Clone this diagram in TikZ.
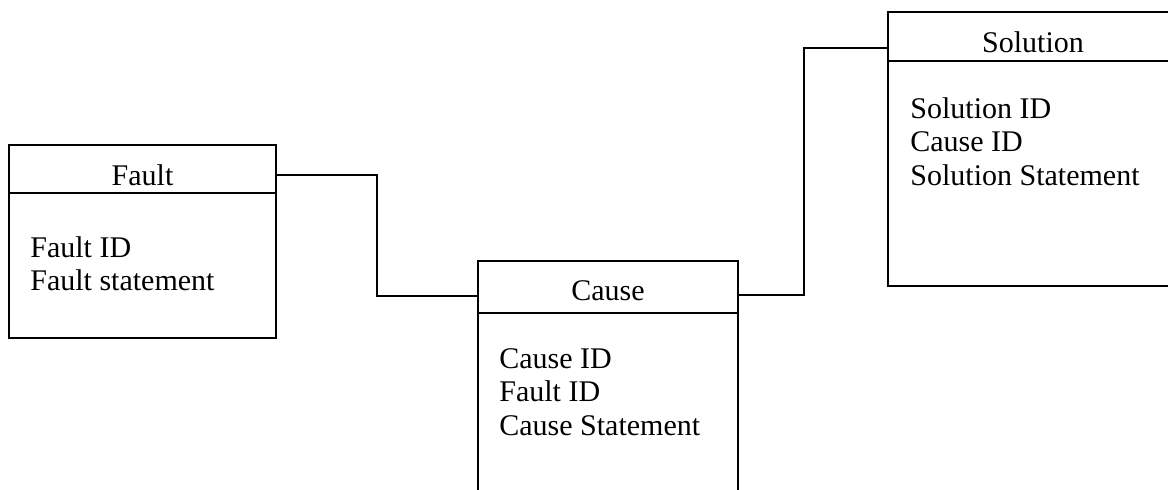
\documentclass[tikz,border=0pt]{standalone}
\usepackage{fontspec}
\setmainfont{Liberation Serif}
\usetikzlibrary{calc}
\begin{document}
\begin{tikzpicture}[x=0.5pt,y=-0.5pt,
  table/.style={draw=black, line width=1pt, anchor=north west, inner sep=0pt, outer sep=0pt},
  title/.style={anchor=base, font=\fontsize{15}{17}\selectfont, inner sep=0pt},
  field/.style={anchor=base west, font=\fontsize{15}{17}\selectfont, inner sep=0pt},
  link/.style={draw=black, line width=1pt}]
\useasboundingbox (0,0) rectangle (1168,489);
\clip (0,0) rectangle (1168,489);

% Entity boxes
\node[table, minimum width=133.5pt, minimum height=96.5pt] (fault) at (9,145) {};
\node[table, minimum width=130pt, minimum height=130pt] (cause) at (478,261) {};
\node[table, minimum width=145pt, minimum height=137pt] (solution) at (888,12) {};

% Header separators
\draw[link] ($(fault.north west)+(0,48)$) -- ($(fault.north east)+(0,48)$);
\draw[link] ($(cause.north west)+(0,52)$) -- ($(cause.north east)+(0,52)$);
\draw[link] ($(solution.north west)+(0,49)$) -- ($(solution.north east)+(0,49)$);

% Titles
\node[title] (fault-t) at ($(fault.north)+(0,40)$) {Fault};
\node[title] (cause-t) at ($(cause.north)+(0,39)$) {Cause};
\node[title] (solution-t) at ($(solution.north)+(0,40)$) {Solution};

% Fields
\node[field] (fault-f1) at ($(fault.north west)+(21,112)$) {Fault ID};
\node[field] (fault-f2) at ($(fault.north west)+(21,145.5)$) {Fault statement};

\node[field] (cause-f1) at ($(cause.north west)+(21,107)$) {Cause ID};
\node[field] (cause-f2) at ($(cause.north west)+(21,140.5)$) {Fault ID};
\node[field] (cause-f3) at ($(cause.north west)+(21,174)$) {Cause Statement};

\node[field] (solution-f1) at ($(solution.north west)+(22,106)$) {Solution ID};
\node[field] (solution-f2) at ($(solution.north west)+(22,139.5)$) {Cause ID};
\node[field] (solution-f3) at ($(solution.north west)+(22,173)$) {Solution Statement};

% Relationship connectors
\coordinate (fc-a) at ($(fault.north east)+(0,30)$);
\coordinate (fc-b) at ($(cause.north west)+(0,35)$);
\draw[link] (fc-a) -| ($(fc-a)!0.5!(fc-b)$) |- (fc-b);

\coordinate (cs-a) at ($(cause.north east)+(0,34)$);
\coordinate (cs-b) at ($(solution.north west)+(0,36)$);
\coordinate (cs-m) at ($(cs-a)+(66,0)$);
\draw[link] (cs-a) -- (cs-m) |- (cs-b);
\end{tikzpicture}
\end{document}
